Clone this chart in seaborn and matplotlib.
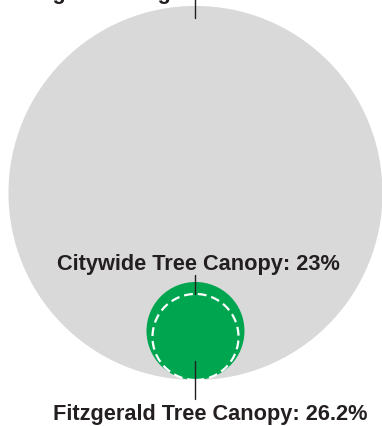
import matplotlib
matplotlib.use("Agg")
import matplotlib.pyplot as plt
from matplotlib.patches import Circle
import seaborn as sns

# Nested-circle comparison: radii are proportional to the share of area
labels = ["Fitzgerald Neighborhood Area", "Citywide Tree Canopy", "Fitzgerald Tree Canopy"]
values = [100.0, 23.0, 26.2]          # percent of neighborhood area
display = ["Fitzgerald Neighborhood Area", "Citywide Tree Canopy: 23%",
           "Fitzgerald Tree Canopy: 26.2%"]

sns.set_theme(style="white")
plt.rcParams["font.family"] = ["Liberation Sans", "DejaVu Sans"]

GREY = "#d9d9d9"
GREEN = "#00a64f"
INK = "#231f20"

fig = plt.figure(figsize=(3.82, 4.27), dpi=100)
ax = fig.add_axes([0, 0, 1, 1])
ax.set_xlim(-104.5, 99.7)
ax.set_ylim(-124.6, 103.7)
ax.set_aspect("equal")
ax.axis("off")

base = -values[0]  # all circles share the same bottom point
area, city, fitz = values

# neighborhood circle
ax.add_patch(Circle((0, base + area), area, facecolor=GREY, edgecolor="none", zorder=1))
# Fitzgerald canopy (filled)
ax.add_patch(Circle((0, base + fitz), fitz, facecolor=GREEN, edgecolor="none", zorder=2))
# citywide canopy (dashed outline)
ax.add_patch(Circle((0, base + city), city, facecolor="none", edgecolor="white",
                    linewidth=1.6, linestyle=(0, (4, 2.2)), zorder=3))

# leader lines
ax.plot([0, 0], [103.7, area - 6.4], color=INK, lw=1.0, zorder=4)
ax.plot([0, 0], [-43.9, base + 2 * city], color=INK, lw=1.0, zorder=4)
ax.plot([0, 0], [-89.8, -110.2], color=INK, lw=1.0, zorder=4)

# labels
fs = 15.7
ax.text(-96.4, 104.4, display[0], ha="left", va="baseline", fontsize=fs,
        fontweight="bold", color=INK, clip_on=False)
ax.text(1.6, -40.6, display[1], ha="center", va="baseline", fontsize=fs,
        fontweight="bold", color=INK)
ax.text(7.8, -120.9, display[2], ha="center", va="baseline", fontsize=fs,
        fontweight="bold", color=INK)

fig.savefig("out.png", dpi=100, facecolor="white")
